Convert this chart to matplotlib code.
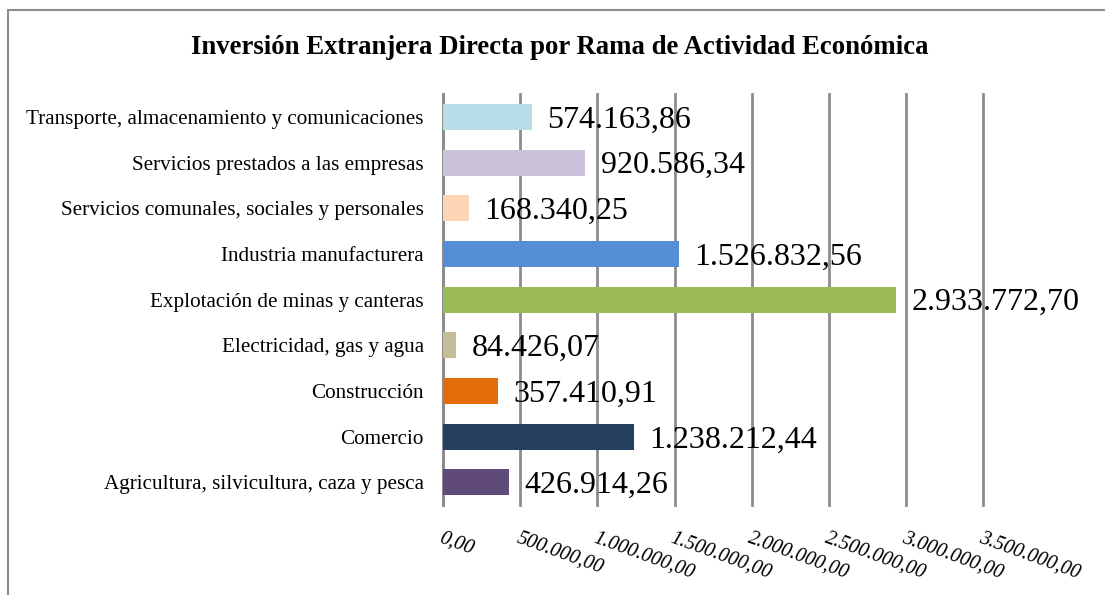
import matplotlib.pyplot as plt
from matplotlib.patches import Rectangle

# datos (de abajo hacia arriba)
categorias = [
    'Agricultura, silvicultura, caza y pesca',
    'Comercio',
    'Construcción',
    'Electricidad, gas y agua',
    'Explotación de minas y canteras',
    'Industria manufacturera',
    'Servicios comunales, sociales y personales',
    'Servicios prestados a las empresas',
    'Transporte, almacenamiento y comunicaciones',
]
valores = [426914.26, 1238212.44, 357410.91, 84426.07, 2933772.70,
           1526832.56, 168340.25, 920586.34, 574163.86]
etiquetas = ['426.914,26', '1.238.212,44', '357.410,91', '84.426,07',
             '2.933.772,70', '1.526.832,56', '168.340,25', '920.586,34',
             '574.163,86']
colores = ['#604A7B', '#243F60', '#E46C0A', '#C4BD97', '#9BBB59',
           '#558ED5', '#FCD5B5', '#CCC1DA', '#B7DEE8']
ticks_x = [0, 500000, 1000000, 1500000, 2000000, 2500000, 3000000, 3500000]
ticks_lbl = ['0,00', '500.000,00', '1.000.000,00', '1.500.000,00',
             '2.000.000,00', '2.500.000,00', '3.000.000,00', '3.500.000,00']

plt.rcParams['font.family'] = ['Liberation Serif', 'DejaVu Serif']

fig = plt.figure(figsize=(11.05, 5.95), dpi=100)
ax = fig.add_axes([0.401, 0.151, 0.489, 0.691])

# borde del gráfico
fig.patches.append(Rectangle((8 / 1105, -0.05), 1.2, 1 - 10 / 595 + 0.05,
                             transform=fig.transFigure, fill=False,
                             edgecolor='#8C8C8C', linewidth=1.5))

y = range(len(categorias))
ax.barh(y, valores, height=0.57, color=colores, zorder=3)
for i, (v, t) in enumerate(zip(valores, etiquetas)):
    ax.text(v + 100000, i - 0.07, t, va='center', ha='left', fontsize=23)

ax.set_xlim(0, 3500000)
ax.set_ylim(-0.5, len(categorias) - 0.5)
ax.set_yticks(list(y))
ax.set_yticklabels(categorias, fontsize=15.2)
ax.set_xticks(ticks_x)
ax.set_xticklabels(ticks_lbl, fontsize=14.5, style='italic', rotation=-20,
                   ha='left', va='top', rotation_mode='anchor')
ax.tick_params(axis='y', length=0, pad=14)
ax.tick_params(axis='x', length=0, pad=17)
ax.grid(axis='x', color='#8C8C8C', linewidth=2, zorder=0)
for gl in ax.get_xgridlines():
    gl.set_clip_on(False)
for s in ['top', 'right', 'bottom']:
    ax.spines[s].set_visible(False)
ax.spines['left'].set_color('#8C8C8C')
ax.spines['left'].set_linewidth(2)

fig.text(0.507, 1 - 47 / 595, 'Inversión Extranjera Directa por Rama de Actividad Económica',
         ha='center', va='center', fontsize=19.3, fontweight='bold')

fig.savefig('out.png', dpi=100)
